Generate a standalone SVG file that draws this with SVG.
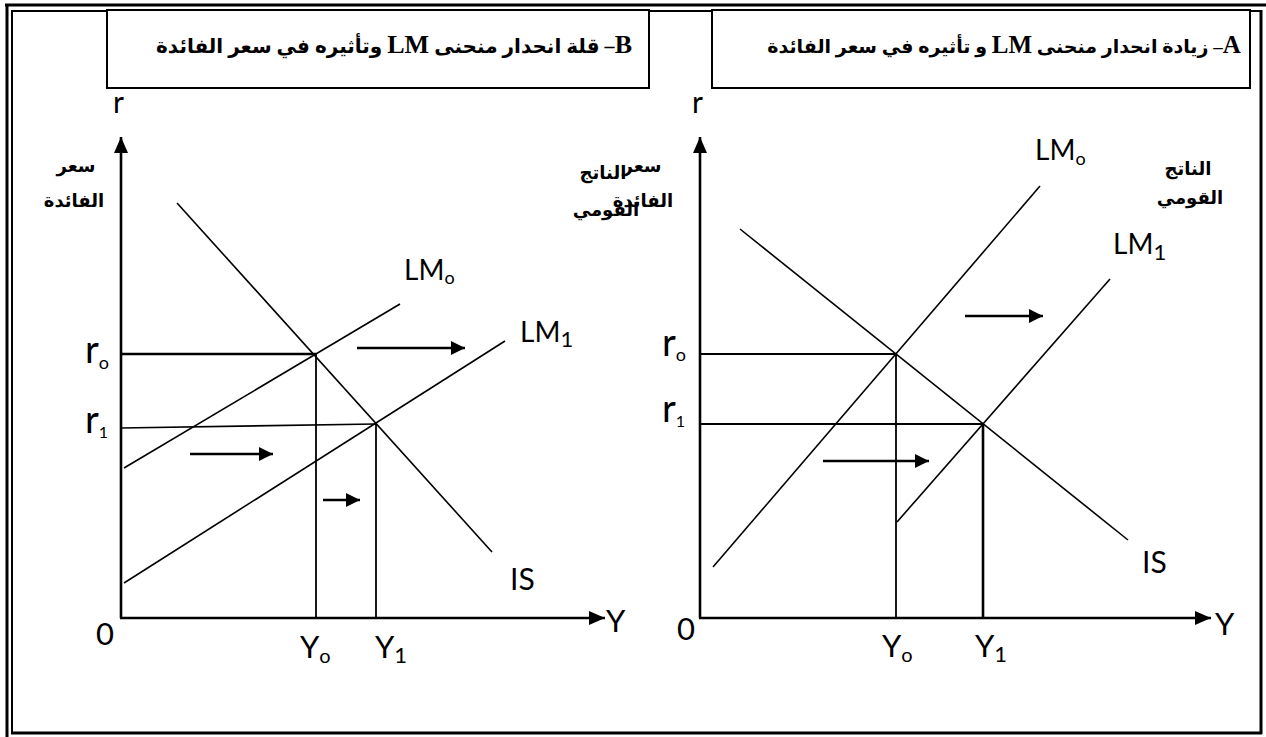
<svg xmlns="http://www.w3.org/2000/svg" width="1266" height="737" viewBox="0 0 1266 737">
<defs>
<style>
.ln{stroke:#000;stroke-width:1.6;fill:none}
.ax{stroke:#000;stroke-width:2.6;fill:none}
.gd{stroke:#000;stroke-width:1.8;fill:none}
.sh{stroke:#000;stroke-width:2.4;fill:none}
.fr{stroke:#000;fill:none}
.lb{font-family:Lato,Carlito,"Open Sans",sans-serif;fill:#000}
.ar{font-family:"DejaVu Sans","Noto Sans",sans-serif;font-weight:bold;font-size:18px;fill:#000;text-anchor:middle}
.tt{font-family:"Liberation Serif","DejaVu Sans",serif;font-weight:bold;font-size:20px;fill:#000;text-anchor:middle;direction:rtl;unicode-bidi:embed}
.big{font-size:26px}
.ttA{font-size:19px}
.bigA{font-size:25px}
</style>
<marker id="ah" markerWidth="18" markerHeight="16" refX="16" refY="8" orient="auto" markerUnits="userSpaceOnUse">
<path d="M0,1 L16,8 L0,15 Z" fill="#000"/>
</marker>
<marker id="sa" markerWidth="16" markerHeight="16" refX="14" refY="8" orient="auto" markerUnits="userSpaceOnUse">
<path d="M0,1 L14,8 L0,15 Z" fill="#000"/>
</marker>
</defs>
<rect width="1266" height="737" fill="#fff"/>
<g id="frame">
<line class="fr" x1="5" y1="5" x2="1266" y2="5" stroke-width="3"/>
<line class="fr" x1="12" y1="11" x2="1261" y2="11" stroke-width="2"/>
<line class="fr" x1="7" y1="4" x2="7" y2="737" stroke-width="3"/>
<line class="fr" x1="12" y1="10" x2="12" y2="733" stroke-width="2"/>
<line class="fr" x1="1261" y1="10" x2="1261" y2="734" stroke-width="3"/>
<line class="fr" x1="11" y1="733" x2="1262" y2="733" stroke-width="3"/>
</g>
<g id="title-B">
<rect x="107" y="10" width="542" height="78" fill="#fff" stroke="#000" stroke-width="2"/>
<text class="tt" x="394" y="53"><tspan class="big">B</tspan>– قلة انحدار منحنى <tspan class="big">LM</tspan>  وتأثيره في سعر الفائدة</text>
</g>
<g id="title-A">
<rect x="712" y="10" width="538" height="78" fill="#fff" stroke="#000" stroke-width="2"/>
<text class="tt ttA" x="1004" y="53"><tspan class="bigA">A</tspan>– زيادة انحدار منحنى <tspan class="bigA">LM</tspan> و تأثيره في سعر الفائدة</text>
</g>
<g id="panel-B">
<line class="ax" x1="121" y1="618" x2="121" y2="137" marker-end="url(#ah)"/>
<line class="ax" x1="120" y1="618" x2="605" y2="618" marker-end="url(#ah)"/>
<line class="fr" x1="121" y1="354" x2="316" y2="354" stroke-width="2.6"/>
<line class="ln" x1="121" y1="428" x2="376" y2="424"/>
<line class="gd" x1="316" y1="354" x2="316" y2="618"/>
<line class="gd" x1="376" y1="424" x2="376" y2="618"/>
<line id="B-LM0" class="ln" x1="124" y1="468" x2="400" y2="304"/>
<line id="B-LM1" class="ln" x1="124" y1="583" x2="505" y2="341"/>
<line id="B-IS" class="ln" x1="177" y1="203" x2="492" y2="552"/>
<text class="lb" x="113" y="113" font-size="30">r</text>
<text class="ar" x="76" y="172">سعر</text>
<text class="ar" x="74" y="207">الفائدة</text>
<text class="ar" x="642" y="172">سعر</text>
<text class="ar" x="603" y="179">الناتج</text>
<text class="ar" x="643" y="207">الفائدة</text>
<text class="ar" x="606" y="216">القومي</text>
<text class="lb" x="85" y="363" font-size="38">r<tspan font-size="18" dy="6">o</tspan></text>
<text class="lb" x="85" y="433" font-size="38">r<tspan font-size="16" dy="5">1</tspan></text>
<text class="lb" x="96" y="645" font-size="31">0</text>
<text class="lb" x="300" y="658" font-size="31">Y<tspan font-size="20" dy="5">o</tspan></text>
<text class="lb" x="375" y="658" font-size="31">Y<tspan font-size="22" dy="5">1</tspan></text>
<text class="lb" x="606" y="632" font-size="31">Y</text>
<text class="lb" x="510" y="590" font-size="30">IS</text>
<text class="lb" x="404" y="280" font-size="28">LM<tspan font-size="18" dy="4">o</tspan></text>
<text class="lb" x="520" y="342" font-size="28">LM<tspan font-size="22" dy="5">1</tspan></text>
</g>
<g id="panel-A">
<line class="ax" x1="700" y1="618" x2="700" y2="137" marker-end="url(#ah)"/>
<line class="ax" x1="699" y1="618" x2="1211" y2="618" marker-end="url(#ah)"/>
<line class="gd" x1="700" y1="354" x2="896" y2="354"/>
<line class="gd" x1="700" y1="424" x2="983" y2="424"/>
<line class="gd" x1="896" y1="354" x2="896" y2="618"/>
<line class="fr" x1="983" y1="424" x2="983" y2="618" stroke-width="2.6"/>
<line id="A-LM0" class="ln" x1="713" y1="567" x2="1040" y2="186"/>
<line id="A-LM1" class="ln" x1="897" y1="522" x2="1110" y2="279"/>
<line id="A-IS" class="ln" x1="740" y1="229" x2="1128" y2="540"/>
<text class="lb" x="692" y="113" font-size="30">r</text>
<text class="ar" x="1188" y="175">الناتج</text>
<text class="ar" x="1190" y="204">القومي</text>
<text class="lb" x="662" y="356" font-size="38">r<tspan font-size="18" dy="5">o</tspan></text>
<text class="lb" x="662" y="422" font-size="38">r<tspan font-size="16" dy="5">1</tspan></text>
<text class="lb" x="677" y="640" font-size="31">0</text>
<text class="lb" x="882" y="657" font-size="31">Y<tspan font-size="20" dy="5">o</tspan></text>
<text class="lb" x="975" y="657" font-size="31">Y<tspan font-size="22" dy="5">1</tspan></text>
<text class="lb" x="1215" y="635" font-size="31">Y</text>
<text class="lb" x="1142" y="573" font-size="30">IS</text>
<text class="lb" x="1035" y="160" font-size="28">LM<tspan font-size="18" dy="5">o</tspan></text>
<text class="lb" x="1113" y="254" font-size="28">LM<tspan font-size="22" dy="6">1</tspan></text>
</g>
<g id="connectors">
<line class="sh" x1="357" y1="348" x2="465" y2="348" marker-end="url(#sa)"/>
<line class="sh" x1="190" y1="454" x2="273" y2="454" marker-end="url(#sa)"/>
<line class="sh" x1="323" y1="500" x2="360" y2="500" marker-end="url(#sa)"/>
<line class="sh" x1="823" y1="461" x2="929" y2="461" marker-end="url(#sa)"/>
<line class="sh" x1="965" y1="316" x2="1043" y2="316" marker-end="url(#sa)"/>
</g>
</svg>
